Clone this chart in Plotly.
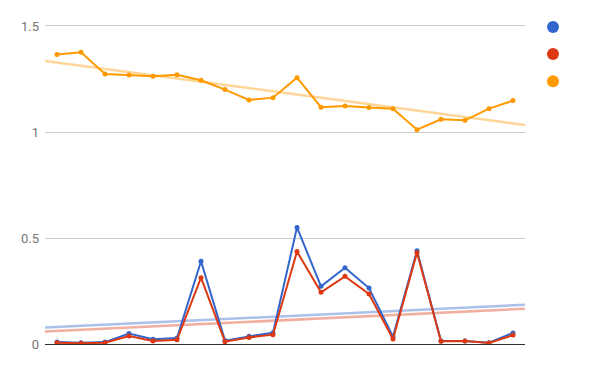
import numpy as np
import plotly.graph_objects as go

x_idx = list(range(20))
blue_vals = [0.009, 0.006, 0.009, 0.049, 0.022, 0.028, 0.390, 0.016, 0.036, 0.053,
             0.550, 0.272, 0.360, 0.264, 0.035, 0.440, 0.014, 0.014, 0.006, 0.052]
red_vals = [0.006, 0.003, 0.006, 0.038, 0.014, 0.020, 0.313, 0.011, 0.031, 0.044,
            0.436, 0.244, 0.319, 0.236, 0.024, 0.431, 0.013, 0.014, 0.005, 0.042]
orange_vals = [1.365, 1.376, 1.274, 1.269, 1.263, 1.270, 1.244, 1.200, 1.151, 1.162,
               1.256, 1.117, 1.123, 1.115, 1.110, 1.011, 1.060, 1.055, 1.110, 1.148]
y_ticks = [0, 0.5, 1, 1.5]
y_tick_text = ["0", "0.5", "1", "1.5"]

series = [
    (blue_vals, "#3366cc"),
    (red_vals, "#dc3912"),
    (orange_vals, "#ff9900"),
]

fig = go.Figure()

# trendlines (linear regression of each series)
x_ends = [-0.5, 19.5]
for vals, color in series:
    k, b = np.polyfit(x_idx, vals, 1)
    fig.add_trace(go.Scatter(
        x=x_ends, y=[k * xe + b for xe in x_ends], mode="lines",
        line=dict(color=color, width=2.5), opacity=0.4,
        showlegend=False, hoverinfo="skip"))

for vals, color in series:
    fig.add_trace(go.Scatter(
        x=x_idx, y=vals, mode="lines+markers", name="",
        line=dict(color=color, width=2),
        marker=dict(color=color, size=5),
        showlegend=False))

# legend entries (dots only)
for vals, color in series:
    fig.add_trace(go.Scatter(
        x=[None], y=[None], mode="markers", name="",
        marker=dict(color=color, size=12), showlegend=True))

fig.update_layout(
    width=600, height=371,
    margin=dict(l=45, r=75, t=24, b=27, autoexpand=False),
    paper_bgcolor="white", plot_bgcolor="white",
    font=dict(family="Roboto, Arial, sans-serif", size=13, color="#444444"),
    showlegend=True,
    legend=dict(xref="container", yref="container",
                x=0.8883, xanchor="left", y=0.977, yanchor="top",
                font=dict(size=18.5), itemsizing="trace", bgcolor="rgba(0,0,0,0)"),
    xaxis=dict(range=[-0.5, 19.5], showgrid=False, showticklabels=False,
               zeroline=False, showline=False, ticks=""),
    yaxis=dict(range=[0, 1.5094], tickvals=y_ticks, ticktext=y_tick_text,
               showgrid=True, gridcolor="#cccccc", gridwidth=1,
               zeroline=True, zerolinecolor="#333333", zerolinewidth=1,
               showline=False, ticks="", ticklabelstandoff=5,
               tickfont=dict(color="#757575", size=13)),
)

fig.write_html("out.html", config={"displayModeBar": False},
               post_script="document.body.style.margin='0';")
